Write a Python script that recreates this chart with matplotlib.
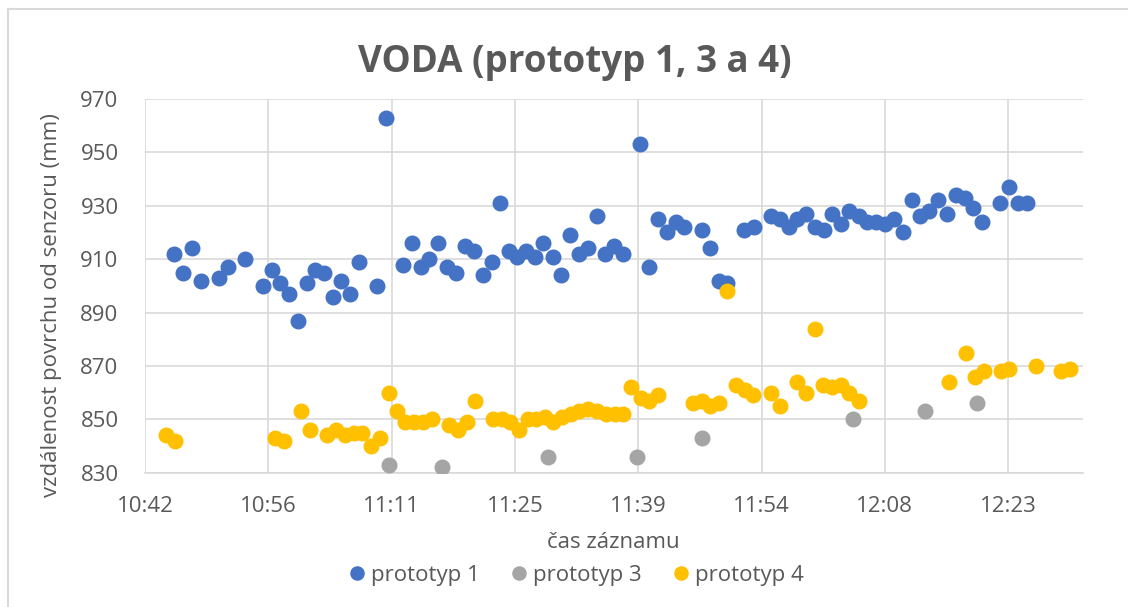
import matplotlib.pyplot as plt
from matplotlib.lines import Line2D
from matplotlib.ticker import FixedLocator, FuncFormatter

plt.rcParams['font.family'] = ['Open Sans', 'DejaVu Sans']

# časy záznamu a naměřené vzdálenosti (mm)
cas_p1 = ["10:45:35", "10:46:41", "10:47:46", "10:48:49", "10:50:53", "10:51:54",
          "10:53:55", "10:55:59", "10:57:02", "10:58:02", "10:59:01", "11:00:09",
          "11:01:07", "11:02:08", "11:03:09", "11:04:10", "11:05:10", "11:06:13",
          "11:07:14", "11:09:20", "11:10:23", "11:12:25", "11:13:23", "11:14:26",
          "11:15:27", "11:16:30", "11:17:31", "11:18:34", "11:19:35", "11:20:42",
          "11:21:41", "11:22:44", "11:23:42", "11:24:43", "11:25:43", "11:26:44",
          "11:27:47", "11:28:45", "11:29:51", "11:30:51", "11:31:52", "11:32:55",
          "11:33:58", "11:34:59", "11:36:00", "11:37:01", "11:38:02", "11:40:03",
          "11:41:06", "11:42:11", "11:43:12", "11:44:13", "11:45:13", "11:47:15",
          "11:48:13", "11:49:14", "11:50:15", "11:52:14", "11:53:20", "11:55:21",
          "11:56:26", "11:57:27", "11:58:25", "11:59:28", "12:00:27", "12:01:32",
          "12:02:31", "12:03:34", "12:04:30", "12:05:35", "12:06:34", "12:07:37",
          "12:08:40", "12:09:41", "12:10:44", "12:11:47", "12:12:47", "12:13:50",
          "12:14:51", "12:15:52", "12:16:57", "12:18:02", "12:18:59", "12:20:02",
          "12:22:05", "12:23:07", "12:24:12", "12:25:15"]
voda_p1 = [912, 905, 914, 902, 903, 907, 910, 900, 906, 901, 897, 887,
           901, 906, 905, 896, 902, 897, 909, 900, 963, 908, 916, 907,
           910, 916, 907, 905, 915, 913, 904, 909, 931, 913, 911, 913,
           911, 916, 911, 904, 919, 912, 914, 926, 912, 915, 912, 953,
           907, 925, 920, 924, 922, 921, 914, 902, 901, 921, 922, 926,
           925, 922, 925, 927, 922, 921, 927, 923, 928, 926, 924, 924,
           923, 925, 920, 932, 926, 928, 932, 927, 934, 933, 929, 924,
           931, 937, 931, 931]

cas_p3 = ["11:10:42", "11:16:53", "11:29:20", "11:39:40", "11:47:15", "12:04:53",
          "12:13:18", "12:19:26"]
voda_p3 = [833, 832, 836, 836, 843, 850, 853, 856]

cas_p4 = ["10:44:42", "10:45:47", "10:57:27", "10:58:28", "11:00:30", "11:01:31",
          "11:03:32", "11:04:35", "11:05:36", "11:06:37", "11:07:37", "11:08:38",
          "11:09:39", "11:10:41", "11:11:38", "11:12:36", "11:13:41", "11:14:44",
          "11:15:48", "11:17:45", "11:18:46", "11:19:49", "11:20:49", "11:22:55",
          "11:23:54", "11:24:54", "11:25:57", "11:26:56", "11:27:54", "11:28:57",
          "11:29:55", "11:30:56", "11:31:57", "11:32:58", "11:34:01", "11:35:02",
          "11:36:05", "11:37:08", "11:38:06", "11:39:00", "11:40:08", "11:41:08",
          "11:42:11", "11:46:12", "11:47:15", "11:48:13", "11:49:14", "11:50:15",
          "11:51:18", "11:52:19", "11:53:17", "11:55:21", "11:56:24", "11:58:21",
          "11:59:24", "12:00:27", "12:01:28", "12:02:28", "12:03:29", "12:04:30",
          "12:05:34", "12:16:08", "12:18:10", "12:19:08", "12:20:13", "12:22:11",
          "12:23:11", "12:26:16", "12:29:15", "12:30:16"]
voda_p4 = [844, 842, 843, 842, 853, 846, 844, 846, 844, 845, 845, 840,
           843, 860, 853, 849, 849, 849, 850, 848, 846, 849, 857, 850,
           850, 849, 846, 850, 850, 851, 849, 851, 852, 853, 854, 853,
           852, 852, 852, 862, 858, 857, 859, 856, 857, 855, 856, 898,
           863, 861, 859, 860, 855, 864, 860, 884, 863, 862, 863, 860,
           857, 864, 875, 866, 868, 868, 869, 870, 868, 869]


def na_minuty(cas):
    h, m, s = (int(v) for v in cas.split(":"))
    return h * 60 + m + s / 60


def popisek(x, pos):
    return f"{int(x // 60)}:{int(x % 60):02d}"


sedy = "#595959"

fig = plt.figure(figsize=(11.28, 6.07), dpi=100)
ax = fig.add_axes([0.1285, 0.2212, 0.8316, 0.6157])

ax.plot([na_minuty(c) for c in cas_p1], voda_p1, 'o', color="#4472C4",
        markersize=10.5, label="prototyp 1", zorder=3)
ax.plot([na_minuty(c) for c in cas_p3], voda_p3, 'o', color="#A5A5A5",
        markersize=10.5, label="prototyp 3", zorder=3)
ax.plot([na_minuty(c) for c in cas_p4], voda_p4, 'o', color="#FFC000",
        markersize=10.5, label="prototyp 4", zorder=3)

# osa x po 0,01 dne jako v Excelu
zacatek = 0.446 * 24 * 60
krok = 0.01 * 24 * 60
ax.set_xlim(zacatek, zacatek + 7.607 * krok)
ax.xaxis.set_major_locator(FixedLocator([zacatek + i * krok for i in range(8)]))
ax.xaxis.set_major_formatter(FuncFormatter(popisek))
ax.set_ylim(830, 970)
ax.set_yticks(range(830, 971, 20))

ax.grid(True, color="#D9D9D9", linewidth=1.2)
ax.set_axisbelow(True)
for s in ["top", "right", "left"]:
    ax.spines[s].set_visible(False)
ax.spines["bottom"].set_color("#D9D9D9")
ax.spines["bottom"].set_linewidth(1.2)
ax.tick_params(length=0, labelsize=16, colors=sedy)
ax.tick_params(axis="x", pad=17)
ax.tick_params(axis="y", pad=19)

fig.text(0.5435, 1 - 548 / 607, "čas záznamu", ha="center", va="baseline",
         fontsize=16, color=sedy)
fig.text(0.046, 1 - 305 / 607, "vzdálenost povrchu od senzoru (mm)", ha="center",
         va="center", rotation=90, fontsize=16, color=sedy)
fig.text(0.5098, 1 - 72 / 607, "VODA (prototyp 1, 3 a 4)", ha="center", va="baseline",
         fontsize=26.5, fontweight="bold", color=sedy)

fig.legend(loc="center", bbox_to_anchor=(0.511, 0.0527), ncol=3, frameon=False,
           fontsize=16, labelcolor=sedy, handlelength=0.7, handletextpad=0.3,
           columnspacing=1.4, markerscale=0.9)

# okraj grafu (jen horní a levá hrana jsou ve výřezu)
fig.add_artist(Line2D([8 / 1128, 1], [1 - 9 / 607, 1 - 9 / 607], transform=fig.transFigure,
                      color="#D9D9D9", linewidth=1.5))
fig.add_artist(Line2D([8 / 1128, 8 / 1128], [0, 1 - 9 / 607], transform=fig.transFigure,
                      color="#D9D9D9", linewidth=1.5))

fig.savefig("out.png", dpi=100)
